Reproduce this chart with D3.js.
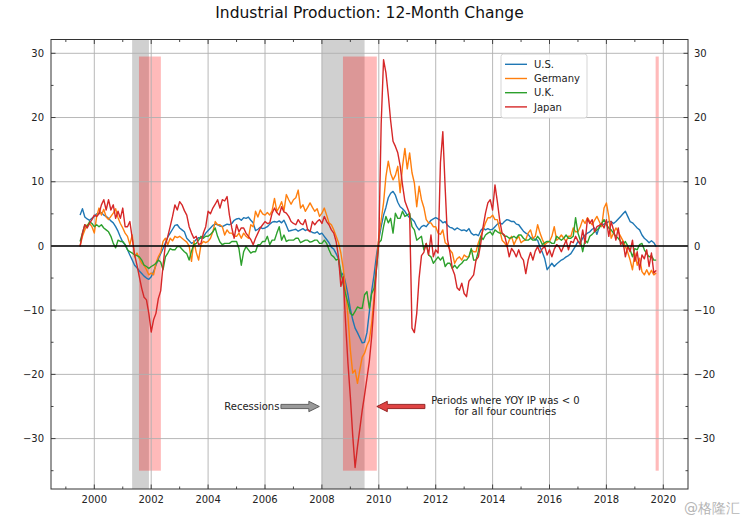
<!DOCTYPE html>
<html><head><meta charset="utf-8">
<script src="https://cdn.jsdelivr.net/npm/d3@7"></script>
<style>body{margin:0;background:#fff} text{font-family:"DejaVu Sans",sans-serif}</style>
</head><body><svg id="c" width="747" height="522"></svg>
<script>
// ---------------- DATA ----------------
const startYear = 1999, startMonth = 6; // first point: July 1999, monthly
const usValues = [
 4.8, 5.8, 4.5, 4.2, 4.0, 4.3,
 4.6, 5.0, 5.1, 5.2, 4.8, 4.6, 4.3, 3.9, 3.6, 3.0, 2.3, 1.4,
 0.6, 0.2, -0.6, -1.4, -2.2, -3.0, -3.4, -3.9, -4.3, -4.7, -5.0, -5.2,
 -4.8, -4.0, -3.0, -2.0, -1.2, -0.4, 0.5, 1.4, 2.0, 2.6, 3.2, 3.3,
 2.8, 2.5, 2.2, 1.2, 0.8, 0.4, 0.6, 1.0, 1.3, 1.2, 1.4, 2.0,
 2.4, 2.8, 3.2, 3.4, 3.3, 3.1, 3.0, 3.2, 3.4, 3.3, 3.5, 4.0,
 4.2, 4.3, 4.0, 4.4, 4.3, 4.5, 4.0, 3.6, 2.4, 2.6, 2.9, 2.7,
 2.8, 3.0, 3.4, 3.7, 3.8, 3.7, 3.9, 3.6, 4.0, 3.2, 2.3, 2.4,
 2.5, 2.6, 2.3, 2.5, 2.7, 2.4, 2.6, 2.3, 2.1, 2.0, 2.2, 1.8,
 2.0, 1.5, 1.0, 0.5, -0.2, -0.5, -1.2, -2.0, -4.8, -4.2, -5.8, -7.6,
 -9.8, -11.5, -12.8, -13.5, -14.3, -15.1, -15.0, -13.5, -10.3, -7.0, -4.5, -1.5,
 1.0, 3.0, 4.8, 6.0, 7.5, 8.2, 8.5, 7.9, 6.8, 6.1, 5.8, 5.4,
 4.8, 4.4, 4.2, 3.8, 3.0, 2.5, 3.0, 3.2, 3.0, 3.5, 4.0, 4.2,
 4.4, 4.2, 4.0, 3.6, 3.8, 3.2, 2.9, 2.8, 2.5, 2.8, 2.6, 2.4,
 2.5, 2.3, 2.7, 2.0, 1.7, 1.8, 1.6, 2.4, 2.8, 2.5, 2.7, 2.5,
 2.6, 3.0, 3.4, 3.6, 3.4, 3.8, 4.1, 4.0, 3.8, 3.8, 3.4, 3.3,
 2.8, 2.3, 2.0, 1.8, 1.3, 1.2, 1.0, 0.9, -0.2, -1.0, -2.0, -3.7,
 -3.2, -2.7, -3.2, -2.8, -2.5, -2.2, -2.0, -1.7, -1.5, -1.2, -0.6, 0.0,
 0.7, 0.5, 1.2, 1.7, 2.0, 2.2, 2.6, 2.8, 1.8, 3.0, 3.2, 3.4,
 3.6, 3.8, 3.8, 3.5, 3.8, 4.2, 4.6, 5.0, 5.4, 4.6, 3.8, 3.6,
 3.2, 2.8, 2.5, 1.7, 1.2, 0.9, 0.5, 0.8, 0.5, -0.1
];
const germanyValues = [
 0.0, 1.5, 2.5, 3.3, 3.5, 3.0,
 2.0, 4.6, 5.9, 4.8, 5.7, 4.5, 4.1, 4.6, 5.1, 5.8, 4.4, 3.5,
 2.8, 2.0, 1.5, 0.2, 1.7, -1.7, -1.1, -2.0, -2.7, -3.0, -3.7, -4.5,
 -4.2, -4.5, -2.7, -1.7, -1.0, 0.7, 1.2, 0.2, 1.2, 0.8, 1.5, 1.3,
 1.5, 1.2, 0.9, 0.6, 0.0, -2.4, 0.8, -1.0, -2.2, 0.2, 0.7, 0.5,
 0.7, 1.2, 2.2, 3.8, 3.3, 3.3, 3.0, 1.7, 2.5, 2.0, 2.0, 1.5,
 1.5, 2.0, 1.2, 2.0, 1.5, 1.2, 3.3, 3.0, 5.4, 4.5, 5.6, 5.0,
 4.8, 5.2, 4.8, 5.5, 7.4, 5.4, 6.0, 6.9, 5.5, 8.0, 7.2, 6.5,
 7.2, 7.5, 8.7, 5.9, 6.4, 5.4, 6.0, 6.7, 6.0, 5.4, 5.8, 4.6,
 5.1, 5.9, 4.8, 3.6, 3.3, 2.5, 1.5, 0.5, -1.1, -3.5, -7.0, -11.0,
 -16.2, -19.8, -19.3, -21.4, -19.3, -17.3, -16.7, -15.5, -14.7, -12.0, -8.0, -3.0,
 1.5, 4.0, 6.7, 10.8, 13.2, 11.3, 10.3, 11.0, 12.4, 8.3, 12.4, 15.2,
 12.0, 14.5, 11.4, 9.8, 6.1, 9.3, 7.2, 6.0, 4.1, 3.6, 3.6, 3.0,
 3.0, 2.0, 1.8, 2.5, 0.5, 0.2, -0.6, -1.1, -2.7, -2.0, -1.7, -2.2,
 -1.4, -1.7, -1.7, -0.6, -0.9, -0.9, 0.5, 1.5, 2.5, 3.6, 4.4, 4.4,
 4.8, 4.1, 4.1, 2.5, 0.9, 0.5, -0.1, 0.9, 1.5, 0.2, 1.0, 1.5,
 0.5, 0.8, 1.0, 2.0, 2.5, 1.2, 1.5, 3.3, 2.0, 1.0, 0.2, 0.5,
 0.7, 1.5, 3.0, 0.9, 1.2, 1.7, 1.2, 0.7, 1.5, 1.5, 2.8, 2.2,
 2.2, 3.0, 4.1, 3.5, 4.4, 3.8, 3.3, 4.0, 4.6, 3.8, 3.0, 5.9,
 6.7, 4.6, 1.2, 2.0, 2.8, 2.2, 1.5, 0.8, -0.1, -1.0, -2.2, -3.7,
 -1.1, -3.0, -1.9, -4.0, -4.5, -3.7, -4.5, -3.8, -4.5, -4.2
];
const ukValues = [
 0.7, 2.0, 3.3, 3.0, 3.8, 3.5,
 3.0, 3.3, 3.0, 3.3, 2.8, 2.5, 2.2, 1.5, 0.4, -0.3, 0.9, 0.7,
 0.7, 0.2, -0.6, -0.9, -1.1, -1.4, -1.5, -1.7, -2.2, -3.0, -3.2, -3.5,
 -3.2, -3.0, -2.7, -2.2, -2.5, -3.7, -1.7, -1.1, -0.4, -0.6, -0.6, -0.1,
 -0.1, -0.5, -0.9, -1.2, -2.2, -0.8, 0.2, 0.4, 0.9, 1.5, 1.2, 1.5,
 1.5, 1.8, 2.2, 2.8, 1.5, 0.6, 0.2, 0.4, 0.4, 0.4, 0.7, 0.7,
 0.7, -0.4, -3.0, -0.9, -0.1, -0.6, -1.1, -0.9, -0.9, 0.2, 0.2, 0.7,
 0.7, 1.5, 0.2, 0.9, 0.9, 2.0, 3.0, 0.9, 1.7, 0.7, 0.9, 0.9,
 0.9, 1.2, 1.2, 0.5, 0.7, 0.9, 0.9, 0.6, 0.7, 0.9, 0.9, 0.4,
 0.4, 0.9, 0.4, -0.6, -1.4, -1.7, -2.2, -2.0, -4.0, -6.0, -7.5, -8.9,
 -10.5, -10.8, -10.2, -9.5, -9.7, -9.7, -7.6, -7.1, -9.7, -7.4, -6.6, -3.7,
 0.5, 0.9, 3.0, 4.6, 3.6, 4.3, 2.0, 5.1, 4.3, 4.3, 5.4, 4.6,
 4.8, 5.1, 3.0, 2.5, 0.9, 1.2, 1.5, -0.6, 0.4, -1.4, -1.7, -2.7,
 -2.2, -1.7, -2.2, -1.7, -3.2, -2.7, -2.7, -3.5, -3.0, -3.5, -3.0, -2.7,
 -2.2, -2.2, -1.7, -0.4, -2.2, -2.2, -0.8, 1.5, 1.0, 1.7, 2.0, 2.2,
 1.7, 2.5, 2.2, 2.0, 2.0, 1.5, 1.5, 1.2, 1.3, 1.5, 1.2, 1.7,
 1.7, 1.2, 0.9, 0.9, 1.2, 0.9, 0.9, 1.5, 1.0, 0.2, 0.5, 0.7,
 0.7, 0.4, 0.4, 1.5, 1.2, 0.9, 1.2, 1.7, 1.2, 1.2, 1.5, 4.4,
 2.0, 0.9, -0.9, 0.9, 0.5, 1.5, 1.8, 2.2, 2.5, 2.8, 3.5, 4.1,
 3.3, 2.8, 2.5, 2.0, 1.5, 1.2, 0.7, 0.2, 0.7, 0.0, -0.6, -1.7,
 -0.4, -0.6, 0.2, 0.4, -0.6, -1.2, -1.7, -1.5, -2.2, -2.2
];
const japanValues = [
 -0.1, 2.0, 3.3, 2.8, 3.5, 4.1,
 4.8, 4.6, 5.0, 6.4, 7.2, 5.6, 7.2, 5.6, 6.4, 4.3, 5.4, 4.3,
 5.9, 3.0, 3.0, 3.8, 1.2, -1.4, -3.0, -4.8, -6.6, -8.0, -8.4, -10.5,
 -13.4, -11.5, -10.5, -8.2, -7.0, -3.0, 0.2, 1.5, 3.0, 4.6, 6.4, 5.6,
 6.9, 6.4, 5.5, 4.8, 3.0, 2.0, 1.2, 1.5, 0.2, 0.4, 2.0, 3.0,
 5.4, 5.0, 5.9, 6.5, 7.2, 5.9, 7.2, 7.0, 7.7, 4.8, 2.8, 1.2,
 3.3, 2.2, 2.8, 2.8, 2.0, 1.5, 1.0, 0.2, 1.2, 2.0, 2.8, 3.3,
 3.8, 3.5, 3.6, 5.1, 5.9, 5.2, 4.8, 6.1, 5.3, 5.1, 4.6, 3.8,
 3.5, 3.3, 4.1, 3.5, 3.3, 4.1, 2.5, 2.2, 3.8, 3.3, 3.8, 4.1,
 3.5, 4.6, 3.8, 3.3, 2.5, 2.0, 0.7, -1.7, -6.3, -4.8, -12.0, -18.3,
 -23.5, -29.5, -34.5, -31.3, -28.5, -25.6, -23.2, -20.6, -18.0, -14.1, -9.0, -3.5,
 0.5, 19.0, 29.0, 27.0, 23.5, 19.5, 16.3, 15.5, 14.5, 12.5, 9.5, 7.0,
 6.0, 5.0, -12.8, -13.5, -10.5, -5.0, -1.5, -1.0, 0.4, -1.4, 1.7, -1.7,
 -0.6, -1.1, 13.0, 17.8, 9.0, 1.0, -1.0, -3.5, -4.5, -6.5, -6.9, -5.8,
 -7.4, -7.9, -5.5, -5.0, -4.5, -2.2, -1.7, 0.4, 3.0, 5.1, 6.7, 7.2,
 5.6, 9.5, 6.9, 4.0, 2.0, 1.7, 0.2, -1.7, -0.4, -0.9, -1.7, -0.6,
 -1.7, -2.2, -4.3, -2.2, -1.0, -2.2, -0.8, -0.1, -1.1, -0.4, -0.1, -1.4,
 -0.6, -1.7, -0.5, 0.2, -0.1, -0.9, 0.0, 0.9, -0.6, 0.7, 0.5, 1.5,
 0.8, 0.2, 2.5, 0.4, 4.3, 3.5, 4.1, 2.2, 3.0, 3.2, 3.5, 2.8,
 4.1, 1.5, 3.8, 2.5, 0.9, 2.8, 0.2, 0.7, -1.7, -0.1, -0.9, 0.9,
 -2.4, -0.9, -3.7, -1.4, -2.0, -0.6, -3.2, -1.1, -4.2, -3.8
];
const seriesNames = ["U.S.", "Germany", "U.K.", "Japan"];
const seriesColors = ["#1f77b4", "#ff7f0e", "#2ca02c", "#d62728"];
// recessions (grey) and periods where all four were negative (red), in fractional years
const recessionStart = [2001.33, 2008.0];
const recessionEnd   = [2001.92, 2009.5];
const negativeStart  = [2001.57, 2008.74, 2019.73];
const negativeEnd    = [2002.34, 2009.93, 2019.84];
const negativeSpanLow = -35, negativeSpanHigh = 29.5;
const xTickValues = [2000, 2002, 2004, 2006, 2008, 2010, 2012, 2014, 2016, 2018, 2020];
const yTickValues = [-30, -20, -10, 0, 10, 20, 30];
const titleText = "Industrial Production: 12-Month Change";
const recessionLabel = "Recessions";
const negativeLabel = ["Periods where YOY IP was < 0", "for all four countries"];
// annotation arrows: [tailYear, tipYear, value]
const recessionArrow = [2006.56, 2007.91, -25];
const negativeArrow = [2011.62, 2009.93, -25];
const negativeLabelYear = 2014.45;
const watermark = "@格隆汇";

// ---------------- CHART ----------------
const svg = d3.select("#c");
const L = 51, R = 688, T = 39.5, B = 489;
const x = d3.scaleLinear().domain([1998.478, 2020.868]).range([L, R]);
const y = d3.scaleLinear().domain([-37.85, 32.15]).range([B, T]);
const seriesValues = [usValues, germanyValues, ukValues, japanValues];
const toPoints = vals => vals.map((v, i) => ({t: startYear + (startMonth + i) / 12, v}));

svg.append("defs").append("clipPath").attr("id", "pa")
  .append("rect").attr("x", L).attr("y", T).attr("width", R - L).attr("height", B - T);
const g = svg.append("g").attr("clip-path", "url(#pa)");

// spans
g.selectAll(".rec").data(recessionStart).join("rect")
  .attr("x", (d) => x(d)).attr("width", (d, i) => x(recessionEnd[i]) - x(d))
  .attr("y", T).attr("height", B - T).attr("fill", "#808080").attr("fill-opacity", 0.37);
g.selectAll(".neg").data(negativeStart).join("rect")
  .attr("x", (d) => x(d)).attr("width", (d, i) => x(negativeEnd[i]) - x(d))
  .attr("y", y(negativeSpanHigh)).attr("height", y(negativeSpanLow) - y(negativeSpanHigh))
  .attr("fill", "#ff0000").attr("fill-opacity", 0.27);

// grid
g.selectAll(".gx").data(xTickValues).join("line")
  .attr("x1", d => x(d)).attr("x2", d => x(d)).attr("y1", T).attr("y2", B)
  .attr("stroke", "#b0b0b0").attr("stroke-width", 0.9);
g.selectAll(".gy").data(yTickValues).join("line")
  .attr("y1", d => y(d)).attr("y2", d => y(d)).attr("x1", L).attr("x2", R)
  .attr("stroke", "#b0b0b0").attr("stroke-width", 0.9);

// series
const line = d3.line().x(d => x(d.t)).y(d => y(d.v));
seriesValues.forEach((vals, i) => {
  g.append("path").datum(toPoints(vals)).attr("d", line)
    .attr("fill", "none").attr("stroke", seriesColors[i]).attr("stroke-width", 1.4)
    .attr("stroke-linejoin", "round");
});
// zero line
g.append("line").attr("x1", L).attr("x2", R).attr("y1", y(0)).attr("y2", y(0))
  .attr("stroke", "#000").attr("stroke-width", 1.4);

// frame
svg.append("rect").attr("x", L).attr("y", T).attr("width", R - L).attr("height", B - T)
  .attr("fill", "none").attr("stroke", "#333").attr("stroke-width", 1);

// ticks (inward, all four sides)
const minorX = d3.range(1999, 2021, 1).filter(v => v % 2 === 1);
const minorY = d3.range(-35, 31, 5).filter(v => v % 10 !== 0);
const tk = svg.append("g").attr("stroke", "#333").attr("stroke-width", 0.9);
[[xTickValues, 4.5], [minorX, 2.5]].forEach(([vals, len]) => {
  vals.forEach(v => {
    tk.append("line").attr("x1", x(v)).attr("x2", x(v)).attr("y1", B).attr("y2", B - len);
    tk.append("line").attr("x1", x(v)).attr("x2", x(v)).attr("y1", T).attr("y2", T + len);
  });
});
[[yTickValues, 4.5], [minorY, 2.5]].forEach(([vals, len]) => {
  vals.forEach(v => {
    tk.append("line").attr("y1", y(v)).attr("y2", y(v)).attr("x1", L).attr("x2", L + len);
    tk.append("line").attr("y1", y(v)).attr("y2", y(v)).attr("x1", R).attr("x2", R - len);
  });
});
const fmt = d3.format("d");
const lab = svg.append("g").attr("font-size", 10).attr("fill", "#222");
xTickValues.forEach(v => lab.append("text").attr("x", x(v)).attr("y", 503)
  .attr("text-anchor", "middle").text(fmt(v)));
yTickValues.forEach(v => {
  lab.append("text").attr("x", L - 7).attr("y", y(v) + 3.6).attr("text-anchor", "end").text(fmt(v));
  lab.append("text").attr("x", R + 6).attr("y", y(v) + 3.6).attr("text-anchor", "start").text(fmt(v));
});

// title
svg.append("text").attr("x", (L + R) / 2).attr("y", 17.5).attr("text-anchor", "middle")
  .attr("font-size", 15.5).attr("fill", "#111").text(titleText);

// legend
const lg = svg.append("g");
lg.append("rect").attr("x", 501).attr("y", 54).attr("width", 86).attr("height", 64).attr("rx", 2.5)
  .attr("fill", "#fff").attr("fill-opacity", 0.85).attr("stroke", "#d0d0d0").attr("stroke-width", 0.9);
seriesNames.forEach((n, i) => {
  const yy = 64.3 + i * 14.2;
  lg.append("line").attr("x1", 505).attr("x2", 527).attr("y1", yy).attr("y2", yy)
    .attr("stroke", seriesColors[i]).attr("stroke-width", 1.4);
  lg.append("text").attr("x", 534).attr("y", yy + 3.6).attr("font-size", 10).attr("fill", "#222").text(n);
});

// annotation arrows
function arrow(tailT, tipT, v, fill, stroke) {
  const x0 = x(tailT), x1 = x(tipT), yy = y(v);
  const dir = x1 > x0 ? 1 : -1;
  const hl = 10.5, hw = 5.2, bw = 2.1;
  const xb = x1 - dir * hl;
  const pts = [[x0, yy - bw], [xb, yy - bw], [xb, yy - hw], [x1, yy], [xb, yy + hw], [xb, yy + bw], [x0, yy + bw]];
  svg.append("path").attr("d", "M" + pts.map(p => p.join(",")).join("L") + "Z")
    .attr("fill", fill).attr("stroke", stroke).attr("stroke-width", 0.9);
}
arrow(recessionArrow[0], recessionArrow[1], recessionArrow[2], "#9a9a9a", "#555");
arrow(negativeArrow[0], negativeArrow[1], negativeArrow[2], "#e04444", "#8b1a1a");
svg.append("text").attr("x", x(recessionArrow[0]) - 1.5).attr("y", y(recessionArrow[2]) + 3.6)
  .attr("text-anchor", "end").attr("font-size", 10).attr("fill", "#222").text(recessionLabel);
negativeLabel.forEach((s, i) => {
  svg.append("text").attr("x", x(negativeLabelYear)).attr("y", y(negativeArrow[2]) - 2 + i * 10.8)
    .attr("text-anchor", "middle").attr("font-size", 10).attr("fill", "#222").text(s);
});

// watermark
svg.append("text").attr("x", 740).attr("y", 513).attr("text-anchor", "end")
  .attr("font-family", "'Noto Sans CJK SC', sans-serif").attr("font-size", 14)
  .attr("fill", "#b5b5b5").text(watermark);
</script></body></html>
